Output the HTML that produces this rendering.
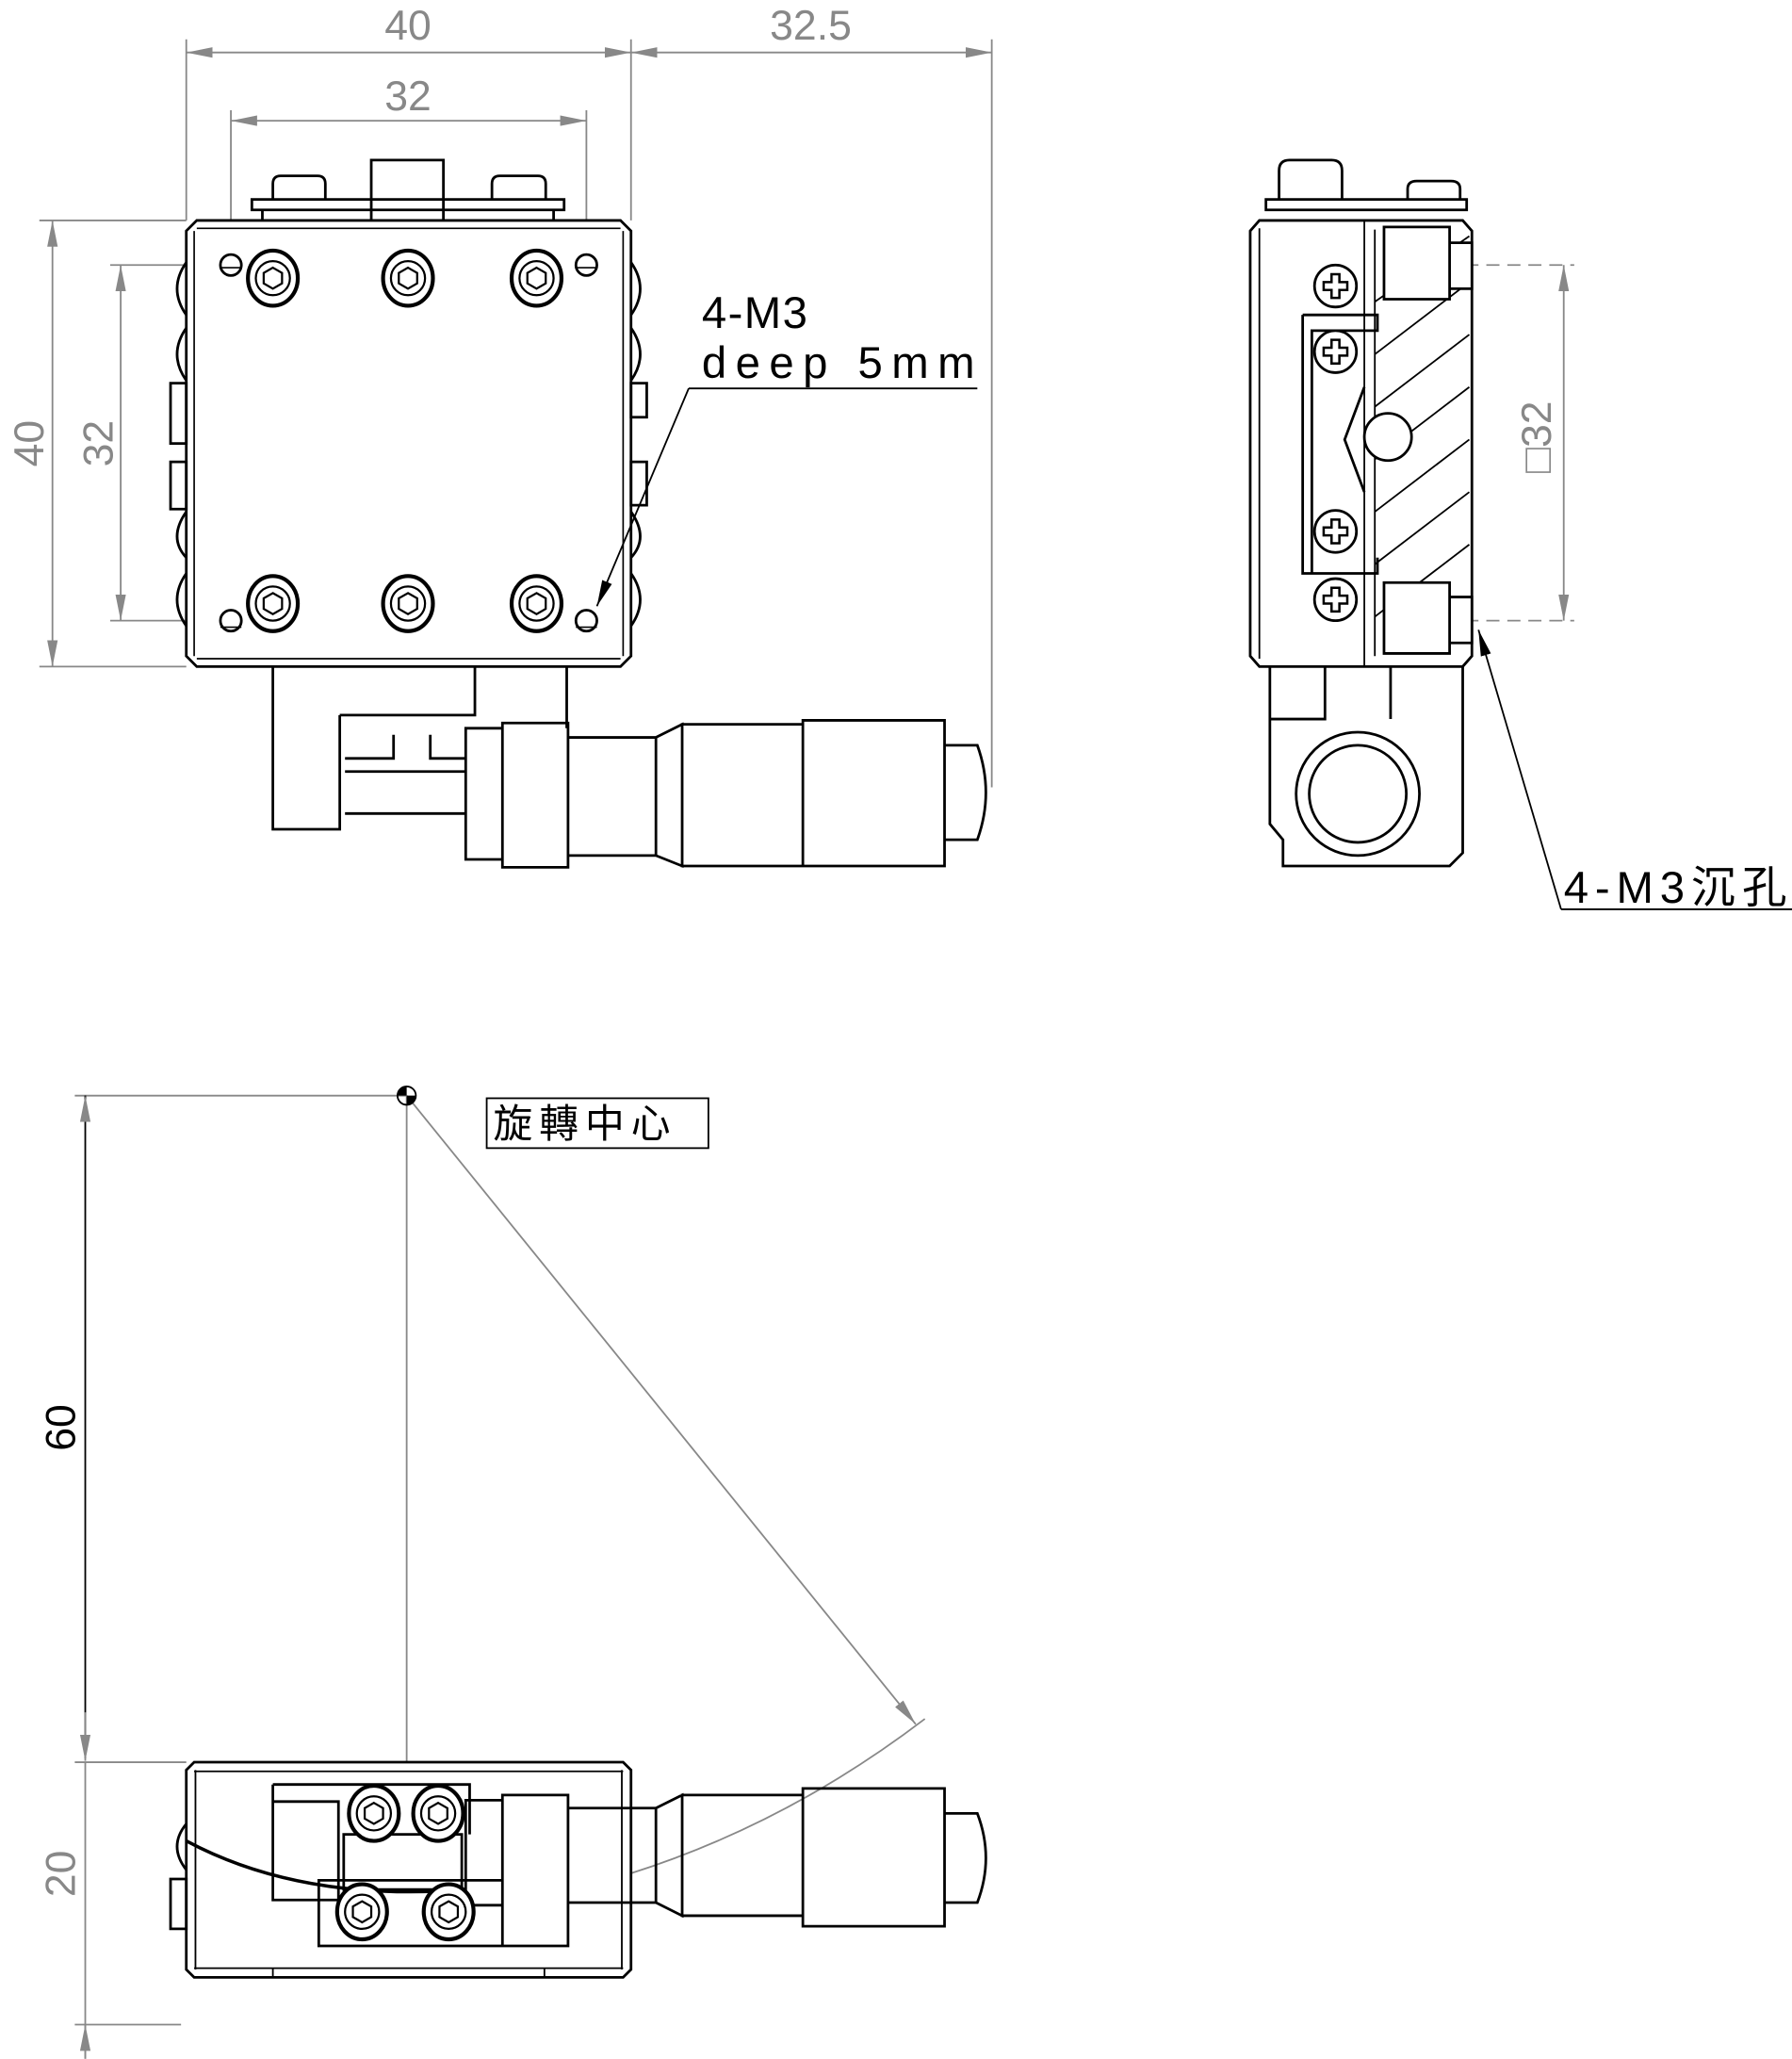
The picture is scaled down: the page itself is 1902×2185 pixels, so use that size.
<!DOCTYPE html>
<html><head><meta charset="utf-8"><style>html,body{margin:0;padding:0;background:#fff}svg{display:block}</style></head><body>
<svg width="1902" height="2185" viewBox="0 0 1366 1569.2" preserveAspectRatio="none" xmlns="http://www.w3.org/2000/svg">
<defs>
<marker id="a" viewBox="0 0 20 8" refX="20" refY="4" markerWidth="20" markerHeight="8" markerUnits="userSpaceOnUse" orient="auto-start-reverse"><path d="M0,0L20,4L0,8z" fill="#888"/></marker>
<marker id="b" viewBox="0 0 20 8" refX="20" refY="4" markerWidth="20" markerHeight="8" markerUnits="userSpaceOnUse" orient="auto"><path d="M0,0L20,4L0,8z" fill="#000"/></marker>
<g id="scr"><ellipse cx="0" cy="0" rx="19" ry="21" fill="#fff" stroke="#000" stroke-width="3"/><circle r="13" fill="none" stroke="#000" stroke-width="1.6"/><path d="M0,-8L7,-4L7,4L0,8L-7,4L-7,-4z" fill="none" stroke="#000" stroke-width="1.6"/></g>
<g id="ph"><circle r="16" fill="#fff" stroke="#000" stroke-width="2"/><path d="M-3,-9h6v6h6v6h-6v6h-6v-6h-6v-6h6z" fill="none" stroke="#000" stroke-width="1.8"/></g>
</defs>
<g font-family="'Liberation Sans',sans-serif" fill="#888" font-size="32" text-anchor="middle">
<text x="311" y="30">40</text><text x="618" y="30">32.5</text><text x="311" y="84">32</text>
<text transform="translate(33,338) rotate(-90)">40</text><text transform="translate(86,338) rotate(-90)">32</text>
<text transform="translate(1182,333) rotate(-90)">□32</text>
<text transform="translate(57,1088) rotate(-90)" fill="#000">60</text>
<text transform="translate(57,1428) rotate(-90)">20</text>
</g>
<g stroke="#888" stroke-width="1.3" fill="none">
<path d="M142,30V168M481,30V168M756,30V600M176,84V195M447,84V195M30,168H142M30,508H142M84,202H170M84,473H170"/>
<line x1="142" y1="40" x2="481" y2="40" marker-start="url(#a)" marker-end="url(#a)"/>
<line x1="481" y1="40" x2="756" y2="40" marker-start="url(#a)" marker-end="url(#a)"/>
<line x1="176" y1="92" x2="447" y2="92" marker-start="url(#a)" marker-end="url(#a)"/>
<line x1="40" y1="168" x2="40" y2="508" marker-start="url(#a)" marker-end="url(#a)"/>
<line x1="92" y1="202" x2="92" y2="473" marker-start="url(#a)" marker-end="url(#a)"/>
<path d="M1085,202H1200M1085,473H1200" stroke-dasharray="10,6"/>
<line x1="1192" y1="202" x2="1192" y2="473" marker-start="url(#a)" marker-end="url(#a)"/>
<path d="M57,835H310M310,835V1343M57,1343H142M57,1543H138M65,1343V1569"/>
<line x1="65" y1="1340" x2="65" y2="835" marker-end="url(#a)" stroke="#000"/>
<line x1="65" y1="1305" x2="65" y2="1342" marker-end="url(#a)"/>
<line x1="65" y1="1569" x2="65" y2="1543" marker-end="url(#a)"/>
<line x1="310" y1="835" x2="698" y2="1314" marker-end="url(#a)"/>
<path d="M705,1310Q600,1390 480,1428"/>
</g>
<g stroke="#000" stroke-width="2" fill="none">
<path d="M150,168H473L481,176V500L473,508H150L142,500V176Z" fill="#fff"/>
<path d="M150,174H473M150,502H473M148,176V500M475,176V500" stroke-width="1.2"/>
<path d="M192,152H430V160H192ZM283,122H338V152H283ZM208,140Q208,134 214,134H242Q248,134 248,140V152H208ZM375,140Q375,134 381,134H410Q416,134 416,140V152H375ZM200,160V168M422,160V168M283,152V168M338,152V168"/>
<circle cx="176" cy="202" r="8"/><circle cx="447" cy="202" r="8"/><circle cx="176" cy="473" r="8"/><circle cx="447" cy="473" r="8"/>
<path d="M168,204H184M439,204H455M168,478H184M439,478H455" stroke-width="1.2"/>
<use href="#scr" x="208" y="212"/><use href="#scr" x="311" y="212"/><use href="#scr" x="409" y="212"/>
<use href="#scr" x="208" y="460"/><use href="#scr" x="311" y="460"/><use href="#scr" x="409" y="460"/>
<path d="M142,200Q128,220 142,240M142,250Q128,270 142,290M142,437Q128,457 142,477M142,390Q128,410 142,425M130,292H142V338H130ZM130,352H142V388H130Z"/>
<path d="M481,200Q495,220 481,240M481,250Q495,270 481,290M481,437Q495,457 481,477M481,390Q495,410 481,425M481,292H493V318H481ZM481,352H493V385H481Z"/>
<path d="M208,508V632H259V560M259,545H362V508M362,508V545M432,508V555M259,545V632M263,578H300V560M328,560V578H355M263,588H355M263,620H355M259,632H208"/>
<path d="M355,555H383V655H355ZM383,551H433V661H383ZM433,562H500V652H433ZM500,562L520,552V660L500,652M520,552H612V660H520ZM612,549H720V660H612ZM720,568H745Q758,604 745,640H720Z"/>
<line x1="525" y1="296" x2="455" y2="462" stroke-width="1.3" marker-end="url(#b)"/>
<path d="M525,296H745" stroke-width="1.3"/>
<path d="M960,168H1115L1122,176V500L1115,508H960L953,500V176Z" fill="#fff"/>
<path d="M960,174V502M1040,168V508M1048,175V500" stroke-width="1.3"/>
<path d="M975,130Q975,122 983,122H1015Q1023,122 1023,130V152H975ZM1073,144Q1073,138 1080,138H1106Q1113,138 1113,144V152H1073ZM965,152H1118V160H965Z"/>
<path d="M993,240H1050V252H1000V437H1050V425M993,240V437H1050"/>
<path d="M1040,295L1025,335L1040,375" />
<g stroke-width="1.3"><path d="M1048,230L1120,180M1048,270L1120,215M1048,310L1120,255M1048,350L1120,295M1048,390L1120,335M1048,430L1120,375M1048,470L1120,415M1060,498L1120,455"/></g>
<circle cx="1058" cy="333" r="18" fill="#fff"/>
<path d="M1055,173H1105V228H1055ZM1055,444H1105V498H1055ZM1105,185H1122V220H1105ZM1105,455H1122V490H1105Z" fill="#fff"/>
<use href="#ph" x="1018" y="218"/><use href="#ph" x="1018" y="268"/><use href="#ph" x="1018" y="405"/><use href="#ph" x="1018" y="457"/>
<path d="M968,508V628L978,640V660H1105L1115,650V508M1010,508V548H968M1060,508V548"/>
<circle cx="1035" cy="605" r="47"/><circle cx="1035" cy="605" r="37"/>
<line x1="1190" y1="693" x2="1127" y2="480" stroke-width="1.3" marker-end="url(#b)"/>
<path d="M1190,693H1366" stroke-width="1.3"/>
<path d="M148,1343H475L481,1349V1501L475,1507H148L142,1501V1349Z" fill="#fff"/>
<path d="M148,1350H475M474,1349V1501M149,1349V1501M148,1500H475M208,1500V1507M415,1500V1507" stroke-width="1.3"/>
<path d="M208,1360H358V1398M208,1360V1448H258M208,1373H258V1448M262,1398H352V1440H262Z"/>
<path d="M142,1403Q230,1450 355,1440" stroke-width="2.5"/>
<use href="#scr" x="285" y="1382"/><use href="#scr" x="334" y="1382"/>
<path d="M355,1372H383V1452H355ZM383,1368H433V1483H383ZM243,1433H383V1483H243ZM433,1378H500V1450H433ZM500,1378L520,1368V1460L500,1450M520,1368H612V1460H520ZM612,1363H720V1468H612ZM720,1382H745Q758,1416 745,1450H720Z" fill="none"/>
<use href="#scr" x="276" y="1457"/><use href="#scr" x="342" y="1457"/>
<path d="M142,1390Q128,1407 142,1425M130,1432H142V1470H130Z"/>
<rect x="371" y="837" width="169" height="38" stroke-width="1.3"/>
</g>
<path d="M303,835A7,7 0 0 1 310,828V835ZM310,835H317A7,7 0 0 1 310,842Z" fill="#000"/>
<circle cx="310" cy="835" r="7" fill="none" stroke="#000" stroke-width="1.3"/>
<g font-family="'Liberation Sans','Noto Sans CJK TC',sans-serif" font-size="34" fill="#000">
<text x="535" y="250" letter-spacing="1">4-M3</text><text x="535" y="288" textLength="208" lengthAdjust="spacing">deep 5mm</text>
<text x="1192" y="688" textLength="170" lengthAdjust="spacing">4-M3沉孔</text>
<text x="376" y="867" font-size="30" letter-spacing="5">旋轉中心</text>
</g>
</svg>
</body></html>
